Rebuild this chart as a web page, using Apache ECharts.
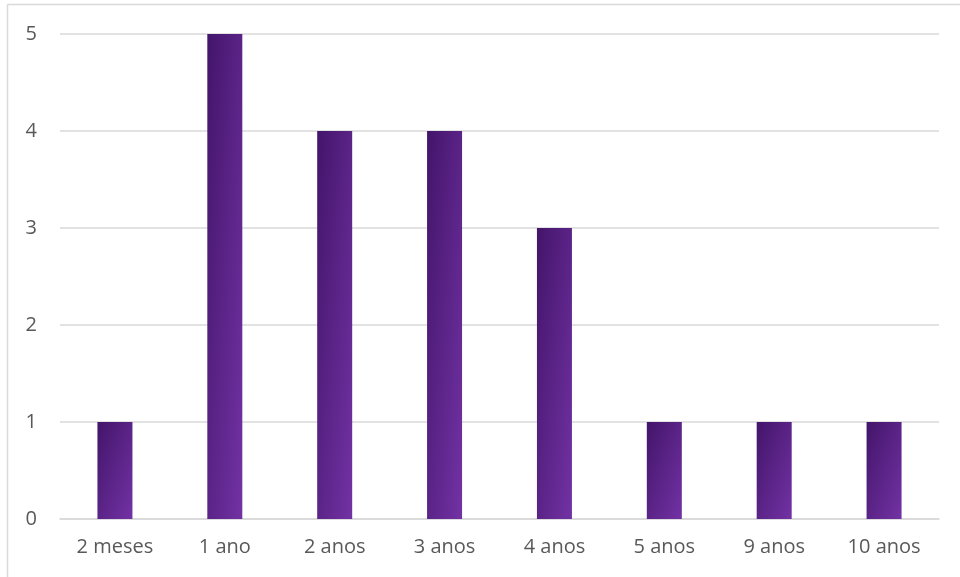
<!DOCTYPE html>
<html>
<head>
<meta charset="utf-8">
<script src="https://cdn.jsdelivr.net/npm/echarts@6/dist/echarts.min.js"></script>
<style>
  html, body { margin: 0; padding: 0; background: #fff; }
  #container { width: 960px; height: 577px; }
</style>
</head>
<body>
<div id="container"></div>
<script>
var categorias = ['2 meses', '1 ano', '2 anos', '3 anos', '4 anos', '5 anos', '9 anos', '10 anos'];
var valores = [1, 5, 4, 4, 3, 1, 1, 1];

var dom = document.getElementById('container');
var myChart = echarts.init(dom);

var larguraBarra = 35;
var pxPorUnidade = 97; // altura aproximada de uma unidade no eixo

// degradê diagonal como no Excel: isolinhas na diagonal da barra
function corBarra(v) {
    var w = larguraBarra, h = v * pxPorUnidade;
    var s = w * w + h * h;
    return new echarts.graphic.LinearGradient(0, 0, 2 * h * h / s, 2 * w * w / s, [
        { offset: 0, color: '#43156a' },
        { offset: 1, color: '#7232a4' }
    ]);
}

var dados = valores.map(function (v) {
    return { value: v, itemStyle: { color: corBarra(v) } };
});

var option = {
    animation: false,
    graphic: [
        {
            type: 'line',
            shape: { x1: 7.5, y1: 4.5, x2: 960, y2: 4.5 },
            style: { stroke: '#d9d9d9', lineWidth: 1.5 },
            silent: true
        },
        {
            type: 'line',
            shape: { x1: 7.5, y1: 4.5, x2: 7.5, y2: 577 },
            style: { stroke: '#d9d9d9', lineWidth: 1.5 },
            silent: true
        }
    ],
    grid: {
        left: 60,
        right: 21,
        top: 34,
        bottom: 58
    },
    xAxis: {
        type: 'category',
        data: categorias,
        axisLine: { lineStyle: { color: '#d9d9d9', width: 1.5 } },
        axisTick: { show: false },
        axisLabel: {
            color: '#595959',
            fontFamily: 'Open Sans',
            fontSize: 20,
            margin: 18
        }
    },
    yAxis: {
        type: 'value',
        min: 0,
        max: 5,
        interval: 1,
        axisLine: { show: false },
        axisTick: { show: false },
        splitLine: { lineStyle: { color: '#d9d9d9', width: 1.5 } },
        axisLabel: {
            color: '#595959',
            fontFamily: 'Open Sans',
            fontSize: 20,
            margin: 23
        }
    },
    series: [{
        type: 'bar',
        data: dados,
        barWidth: larguraBarra
    }]
};

myChart.setOption(option, true);
</script>
</body>
</html>
